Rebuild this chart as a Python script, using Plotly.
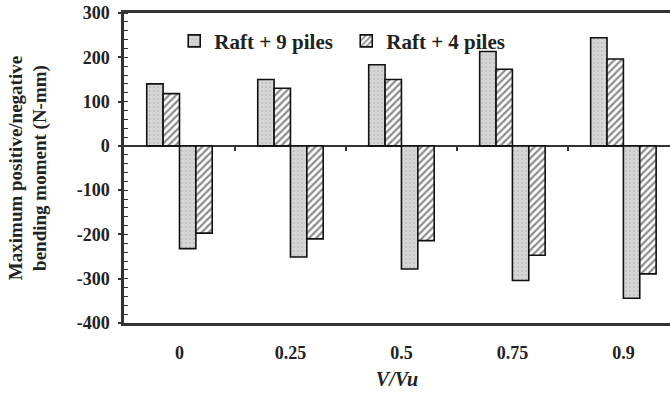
import plotly.graph_objects as go

categories = ["0", "0.25", "0.5", "0.75", "0.9"]
pos_9_piles = [140, 150, 183, 213, 244]
pos_4_piles = [118, 130, 150, 173, 196]
neg_9_piles = [-232, -251, -278, -304, -344]
neg_4_piles = [-197, -210, -214, -247, -289]
y_ticks = [300, 200, 100, 0, -100, -200, -300, -400]

FONT = "Liberation Serif"
xi = list(range(len(categories)))

stipple = dict(shape=".", fgcolor="#a8a8a8", bgcolor="#d6d6d6", size=4, solidity=0.2)
hatch = dict(shape="/", fgcolor="#1a1a1a", bgcolor="#ffffff", size=5, solidity=0.45)
line = dict(color="#111111", width=1.6)

fig = go.Figure()
fig.add_trace(go.Bar(x=xi, y=pos_9_piles, name="Raft + 9 piles", legendgroup="9",
                     marker=dict(color="#d6d6d6", pattern=stipple, line=line)))
fig.add_trace(go.Bar(x=xi, y=pos_4_piles, name="Raft + 4 piles", legendgroup="4",
                     marker=dict(color="#ffffff", pattern=hatch, line=line)))
fig.add_trace(go.Bar(x=xi, y=neg_9_piles, name="Raft + 9 piles", legendgroup="9", showlegend=False,
                     marker=dict(color="#d6d6d6", pattern=stipple, line=line)))
fig.add_trace(go.Bar(x=xi, y=neg_4_piles, name="Raft + 4 piles", legendgroup="4", showlegend=False,
                     marker=dict(color="#ffffff", pattern=hatch, line=line)))

# invisible trace on an overlaid axis that sits on y=0, for the category-boundary ticks
fig.add_trace(go.Scatter(x=[], y=[], xaxis="x2", showlegend=False))

fig.update_layout(
    width=670, height=394,
    margin=dict(l=124, r=0, t=13, b=71, autoexpand=False),
    paper_bgcolor="white", plot_bgcolor="white",
    barmode="group", bargap=0.41, bargroupgap=0,
    font=dict(family=FONT, color="#222222"),
    showlegend=True,
    legend=dict(orientation="h", x=0.092, y=0.975, xanchor="left", yanchor="top",
                font=dict(family=FONT, size=21, color="#222222", weight="bold"),
                bgcolor="rgba(255,255,255,0)", borderwidth=0, itemwidth=30, tracegroupgap=0,
                entrywidth=127),
    xaxis=dict(range=[-0.5, 4.42], tickvals=xi, ticktext=categories, automargin=False,
               showline=True, linecolor="#333333", linewidth=2.5, mirror=True,
               ticks="", showgrid=False, zeroline=False, ticklabelstandoff=12,
               tickfont=dict(family=FONT, size=18, color="#222222", weight="bold"),
               title=dict(text="<i>V/Vu</i>", standoff=10,
                          font=dict(family=FONT, size=20, color="#222222", weight="bold"))),
    xaxis2=dict(overlaying="x", anchor="free", position=4/7, range=[-0.5, 4.42],
                tickvals=[0.5, 1.5, 2.5, 3.5], ticktext=["", "", "", ""], automargin=False,
                ticks="outside", ticklen=4, tickwidth=1.5, tickcolor="#333333",
                showline=False, showgrid=False, zeroline=False, side="bottom"),
    yaxis=dict(range=[-400, 300], tickvals=y_ticks, ticktext=[str(v) for v in y_ticks],
               automargin=False,
               showline=True, linecolor="#333333", linewidth=2.5, mirror=False,
               ticks="outside", ticklen=3, tickwidth=1.5, tickcolor="#333333",
               minor=dict(dtick=20, ticks="inside", ticklen=4, tickwidth=1.2, tickcolor="#333333"),
               showgrid=False, zeroline=True, zerolinecolor="#333333", zerolinewidth=1.5,
               ticklabelstandoff=5,
               tickfont=dict(family=FONT, size=18, color="#222222", weight="bold"),
               title=dict(text="Maximum positive/negative<br>bending moment (N-mm)", standoff=25,
                          font=dict(family=FONT, size=19, color="#222222", weight="bold"))),
)

fig.write_html("out.html", config={"displayModeBar": False},
               post_script="document.body.style.margin='0';document.body.style.overflow='hidden';")
